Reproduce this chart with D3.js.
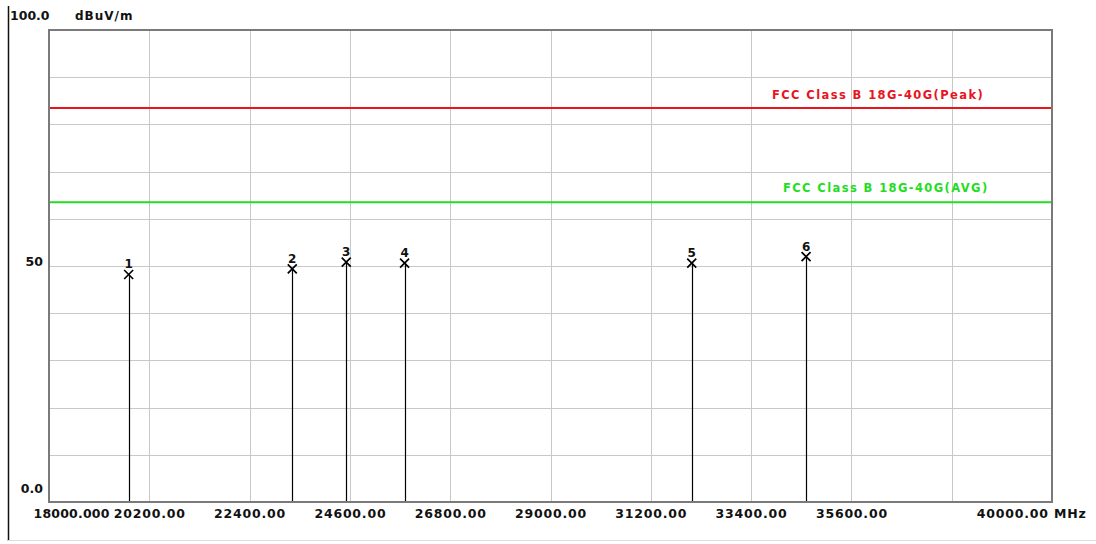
<!DOCTYPE html>
<html>
<head>
<meta charset="utf-8">
<script src="https://cdn.jsdelivr.net/npm/d3@7"></script>
<style>
  html, body { margin: 0; padding: 0; background: #fff; }
  svg { display: block; }
  text { font-family: "DejaVu Sans", Arial, sans-serif; font-weight: bold; }
</style>
</head>
<body>
<svg id="chart" width="1096" height="544"></svg>
<script>
// ---- data ----
const xTickValues = [18000, 20200, 22400, 24600, 26800, 29000, 31200, 33400, 35600, 37800, 40000];
const xTickLabels = ["18000.000", "20200.00", "22400.00", "24600.00", "26800.00", "29000.00", "31200.00", "33400.00", "35600.00", "", "40000.00 MHz"];
const yGridValues = [0, 10, 20, 30, 40, 50, 60, 70, 80, 90, 100];
const yTickValues = [100, 50, 0];
const yTickLabels = ["100.0", "50", "0.0"];
const yUnit = "dBuV/m";
const limitNames = ["FCC Class B 18G-40G(Peak)", "FCC Class B 18G-40G(AVG)"];
const limitValues = [83.5, 63.5];
const limitColors = ["#e8141e", "#22dd22"];
const markerIds = ["1", "2", "3", "4", "5", "6"];
const markerFreqs = [19747, 23336, 24520, 25799, 32098, 34606];
const markerLevels = [48.2, 49.4, 50.8, 50.6, 50.6, 52.0];

// ---- layout ----
const svg = d3.select("#chart");
const L = 49, R = 1052, T = 30, B = 502;
const x = d3.scaleLinear().domain([18000, 40000]).range([L, R]);
const y = d3.scaleLinear().domain([0, 100]).range([B, T]);

// outer frame lines
svg.append("line").attr("x1", 8.5).attr("x2", 8.5).attr("y1", 6).attr("y2", 541)
  .attr("stroke", "#111").attr("stroke-width", 1.5);
svg.append("line").attr("x1", 8).attr("x2", 1096).attr("y1", 540.5).attr("y2", 540.5)
  .attr("stroke", "#ddd").attr("stroke-width", 1);

// grid
const grid = svg.append("g");
grid.selectAll(".vg").data(xTickValues).join("line")
  .attr("x1", d => Math.round(x(d)) + 0.5).attr("x2", d => Math.round(x(d)) + 0.5)
  .attr("y1", T).attr("y2", B).attr("stroke", "#c8c8c8").attr("stroke-width", 1);
grid.selectAll(".hg").data(yGridValues).join("line")
  .attr("x1", L).attr("x2", R)
  .attr("y1", d => Math.round(y(d)) + 0.5).attr("y2", d => Math.round(y(d)) + 0.5)
  .attr("stroke", "#c8c8c8").attr("stroke-width", 1);

// limit lines
limitValues.forEach((v, i) => {
  svg.append("line").attr("x1", L).attr("x2", R).attr("y1", y(v)).attr("y2", y(v))
    .attr("stroke", limitColors[i]).attr("stroke-width", 2);
});
svg.append("text").attr("x", 772).attr("y", y(limitValues[0]) - 9)
  .attr("fill", limitColors[0]).attr("font-size", 11.5).attr("letter-spacing", 1.4).text(limitNames[0]);
svg.append("text").attr("x", 783).attr("y", y(limitValues[1]) - 10)
  .attr("fill", limitColors[1]).attr("font-size", 11.5).attr("letter-spacing", 1.4).text(limitNames[1]);

// markers
const mk = svg.append("g");
markerFreqs.forEach((f, i) => {
  const mx = x(f), my = y(markerLevels[i]);
  mk.append("line").attr("x1", Math.round(mx) + 0.5).attr("x2", Math.round(mx) + 0.5)
    .attr("y1", my).attr("y2", B).attr("stroke", "#000").attr("stroke-width", 1.2);
  const s = 4.5;
  mk.append("path").attr("d", `M${mx - s},${my - s}L${mx + s},${my + s}M${mx + s},${my - s}L${mx - s},${my + s}`)
    .attr("stroke", "#000").attr("stroke-width", 1.7).attr("fill", "none");
  mk.append("text").attr("x", mx).attr("y", my - 6).attr("text-anchor", "middle")
    .attr("font-size", 12).attr("fill", "#111").text(markerIds[i]);
});

// plot frame
svg.append("rect").attr("x", L).attr("y", T).attr("width", R - L).attr("height", B - T)
  .attr("fill", "none").attr("stroke", "#7a7a7a").attr("stroke-width", 2);

// x axis labels via d3 axis
const xAxis = d3.axisBottom(x).tickValues(xTickValues)
  .tickFormat((d, i) => xTickLabels[i]).tickSize(0).tickPadding(0);
const gx = svg.append("g").attr("transform", `translate(0,${B})`).call(xAxis);
gx.select(".domain").remove();
gx.selectAll("text").attr("dy", null).attr("y", 15.5)
  .attr("font-size", 12.5).attr("fill", "#111").attr("letter-spacing", 0.8)
  .style("font-family", "'DejaVu Sans', Arial, sans-serif").style("font-weight", "bold");
gx.selectAll(".tick").filter((d, i) => i === 0).select("text")
  .attr("text-anchor", "start").attr("letter-spacing", 0.2).attr("x", 33 - x(xTickValues[0]));
gx.selectAll(".tick").filter((d, i) => i === xTickValues.length - 1).select("text")
  .attr("text-anchor", "end").attr("x", 1086 - x(xTickValues[xTickValues.length - 1]));

// y labels
const yOff = [-10, 0, -9];
yTickValues.forEach((v, i) => {
  const t = svg.append("text").attr("y", y(v) + yOff[i]).attr("font-size", 12.5).attr("fill", "#111").text(yTickLabels[i]);
  if (i === 0) t.attr("x", 10); else t.attr("x", 43).attr("text-anchor", "end");
});
svg.append("text").attr("x", 75).attr("y", 20).attr("font-size", 12).attr("letter-spacing", 1).attr("fill", "#111").text(yUnit);
</script>
</body>
</html>
